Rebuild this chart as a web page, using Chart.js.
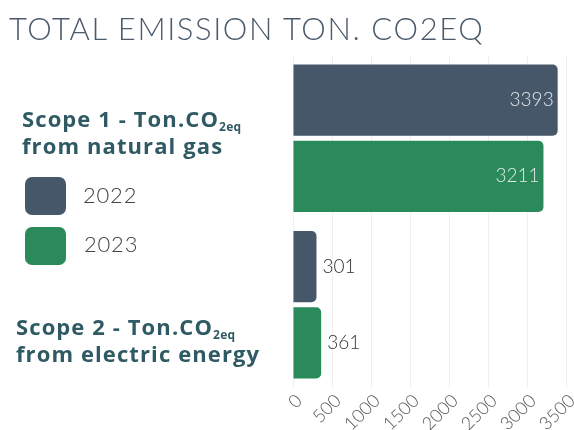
<!DOCTYPE html>
<html>
<head>
<meta charset="utf-8">
<script src="https://cdn.jsdelivr.net/npm/chart.js@4"></script>
<style>
  html, body { margin: 0; padding: 0; background: #fff; }
  #wrap { position: relative; width: 574px; height: 430px; overflow: hidden; }
  #chart { position: absolute; left: 0; top: 0; }
  .title { position: absolute; left: 9px; top: 9px; font-family: Lato, sans-serif; font-weight: 300;
           font-size: 31px; color: #4b5b6b; letter-spacing: 1.6px; white-space: nowrap; }
  .scope { position: absolute; font-family: "Open Sans", sans-serif; font-weight: 700; font-size: 22px;
           line-height: 27px; color: #2f5a63; white-space: nowrap; letter-spacing: 1.1px; }
  .scope sub { font-size: 12px; vertical-align: -4px; line-height: 0; letter-spacing: 0.3px; }
  .sw { position: absolute; width: 41px; height: 38px; border-radius: 7px; }
  .lg { position: absolute; font-family: Lato, sans-serif; font-weight: 300; font-size: 22px; color: #444;
        letter-spacing: 0.8px; }
</style>
</head>
<body>
<div id="wrap">
  <canvas id="chart" width="574" height="430"></canvas>
  <div class="title">TOTAL EMISSION TON. CO2EQ</div>
  <div class="scope" style="left:22px; top:105px;">Scope 1 - Ton.CO<sub>2eq</sub><br>from natural gas</div>
  <div class="sw" style="left:25px; top:177px; background:#46576a;"></div>
  <div class="lg" style="left:83px; top:181px;">2022</div>
  <div class="sw" style="left:25px; top:227px; background:#2a8a5a;"></div>
  <div class="lg" style="left:84px; top:230px;">2023</div>
  <div class="scope" style="left:16px; top:313px;">Scope 2 - Ton.CO<sub>2eq</sub><br>from electric energy</div>
</div>
<script>
// data
const categories = ['Scope 1', 'Scope 2'];
const years = ['2022', '2023'];
const values2022 = [3393, 301];
const values2023 = [3211, 361];
const xTicks = [0, 500, 1000, 1500, 2000, 2500, 3000, 3500];

const colors = ['#46576a', '#2a8a5a'];

// value labels: inside the bar when it is long, after it when short
const valueLabels = {
    id: 'valueLabels',
    afterDatasetsDraw(chart) {
        const ctx = chart.ctx;
        ctx.save();
        ctx.font = '300 19px Lato, sans-serif';
        ctx.textBaseline = 'middle';
        chart.data.datasets.forEach((ds, i) => {
            chart.getDatasetMeta(i).data.forEach((bar, j) => {
                const v = ds.data[j];
                if (v > 1000) {
                    ctx.fillStyle = '#e4e8ec';
                    ctx.textAlign = 'right';
                    ctx.fillText(String(v), bar.x - 4, bar.y);
                } else {
                    ctx.fillStyle = '#333';
                    ctx.textAlign = 'left';
                    ctx.fillText(String(v), bar.x + 6, bar.y);
                }
            });
        });
        ctx.restore();
    }
};

new Chart(document.getElementById('chart'), {
    type: 'bar',
    data: {
        labels: categories,
        datasets: [
            { label: years[0], data: values2022, backgroundColor: colors[0], borderRadius: 5, borderSkipped: 'left' },
            { label: years[1], data: values2023, backgroundColor: colors[1], borderRadius: 5, borderSkipped: 'left' }
        ]
    },
    options: {
        indexAxis: 'y',
        responsive: false,
        animation: false,
        events: [],
        categoryPercentage: 0.915,
        barPercentage: 0.935,
        layout: { padding: { left: 293, right: 8, top: 55, bottom: 0 } },
        plugins: { legend: { display: false }, tooltip: { enabled: false } },
        scales: {
            y: { display: false },
            x: {
                min: 0,
                max: 3500,
                afterBuildTicks: (axis) => { axis.ticks = xTicks.map(v => ({ value: v })); },
                afterFit: (axis) => {
                    axis.height = 42;
                    axis.paddingLeft = 0;
                    axis.paddingRight = 0;
                },
                grid: { color: '#efefef', drawTicks: false },
                border: { display: false },
                ticks: {
                    minRotation: 45,
                    maxRotation: 45,
                    padding: 2,
                    labelOffset: 6,
                    color: '#555',
                    font: { family: 'Lato, sans-serif', size: 18, weight: '300' },
                    callback: (v) => String(v)
                }
            }
        }
    },
    plugins: [valueLabels]
});
</script>
</body>
</html>
